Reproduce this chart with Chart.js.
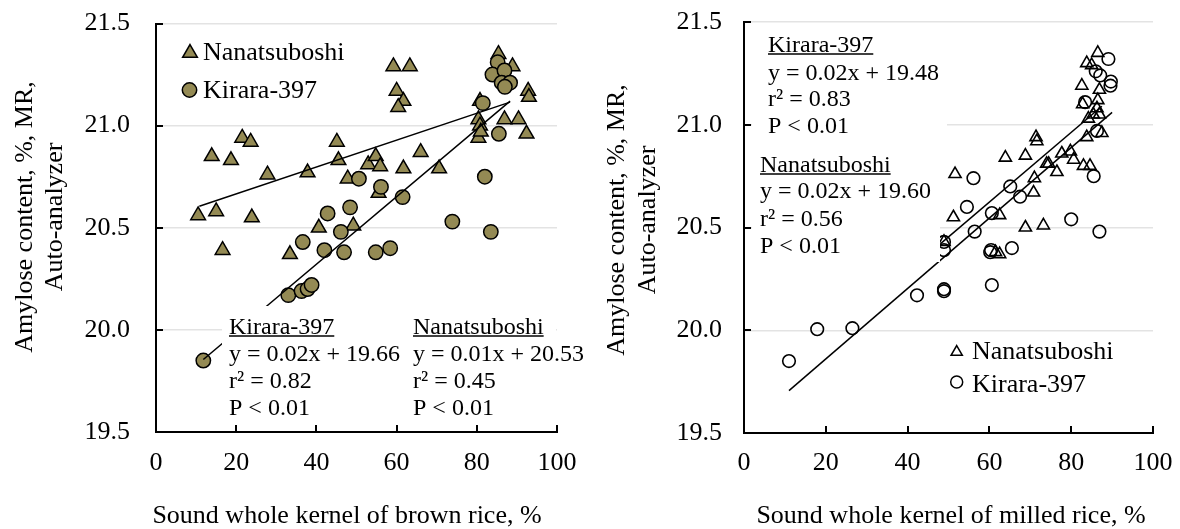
<!DOCTYPE html>
<html><head><meta charset="utf-8">
<script src="https://cdn.jsdelivr.net/npm/chart.js@4.4.1/dist/chart.umd.min.js"></script>
<style>
html,body{margin:0;padding:0;background:#fff;width:1180px;height:529px;overflow:hidden}
canvas{position:absolute;top:0}
#c1{left:0}#c2{left:590px}
</style></head><body>
<canvas id="c1" width="590" height="529"></canvas>
<canvas id="c2" width="590" height="529"></canvas>
<script>
// ---------- data ----------
const xTicks = [0, 20, 40, 60, 80, 100];
const yTicks = [19.5, 20.0, 20.5, 21.0, 21.5];

// Left: brown rice
const nanaBrown = [[10.5,20.56],[15.0,20.58],[16.6,20.39],[13.9,20.85],[18.7,20.83],[21.5,20.94],[23.6,20.92],[23.9,20.55],[27.8,20.76],[33.4,20.37],[37.8,20.77],[40.6,20.50],[45.1,20.92],[45.5,20.83],[47.8,20.74],[49.2,20.51],[52.9,20.81],[54.8,20.85],[55.9,20.80],[55.5,20.67],[61.7,20.79],[66.0,20.87],[70.6,20.79],[59.2,21.29],[63.3,21.29],[60.0,21.17],[61.7,21.12],[60.4,21.09],[80.4,21.03],[80.8,21.00],[80.4,20.94],[80.8,21.12],[81.0,20.97],[86.9,21.03],[90.4,21.03],[92.4,20.96],[92.8,21.17],[93.0,21.14],[85.4,21.35],[88.9,21.29]];
const kiraraBrown = [[11.8,19.85],[33.0,20.17],[36.3,20.19],[37.8,20.20],[38.8,20.22],[36.6,20.43],[42.0,20.39],[42.8,20.57],[46.1,20.48],[46.9,20.38],[48.4,20.60],[50.6,20.74],[56.1,20.70],[61.5,20.65],[54.8,20.38],[58.4,20.40],[73.9,20.53],[82.0,20.75],[83.5,20.48],[85.5,20.96],[81.5,21.11],[85.2,21.31],[83.9,21.25],[86.9,21.27],[86.2,21.21],[88.3,21.21],[87.0,21.19]];
const nanaBrownFit = [[10.8,20.605],[88.3,21.115]];
const kiraraBrownFit = [[11.8,19.855],[88.3,21.12]];

// Right: milled rice
const nanaMilled = [[48.9,20.43],[51.6,20.76],[51.2,20.55],[62.5,20.56],[62.5,20.37],[61.5,20.38],[63.9,20.84],[68.8,20.85],[71.4,20.94],[71.6,20.92],[71.0,20.74],[70.8,20.67],[68.8,20.50],[73.2,20.51],[74.5,20.81],[74.0,20.81],[76.5,20.77],[77.7,20.86],[79.8,20.87],[80.6,20.83],[83.0,20.80],[84.6,20.80],[83.8,20.94],[87.5,20.96],[84.2,21.03],[85.4,21.05],[86.9,21.05],[86.3,21.08],[82.6,21.19],[86.9,21.17],[83.8,21.30],[86.5,21.35],[85.0,21.29],[86.5,21.12],[82.8,21.10]];
const kiraraMilled = [[11.0,19.85],[17.9,20.005],[26.5,20.01],[42.3,20.17],[48.9,20.19],[48.9,20.20],[48.9,20.39],[48.9,20.43],[56.1,20.74],[54.5,20.60],[56.4,20.48],[60.6,20.57],[65.1,20.70],[67.5,20.65],[60.4,20.39],[60.2,20.38],[65.5,20.40],[60.6,20.22],[80.0,20.54],[86.9,20.48],[85.5,20.75],[86.3,20.97],[83.4,21.11],[89.1,21.32],[86.0,21.26],[89.7,21.21],[89.6,21.19],[87.1,21.24]];
const nanaMilledFit = [[48.0,20.42],[87.5,21.09]];
const kiraraMilledFit = [[11.0,19.706],[90.0,21.06]];

const OLIVE = '#948A54';
const SERIF = '"Liberation Serif","Times New Roman",serif';

function pt(arr){ return arr.map(p => ({x:p[0], y:p[1]})); }

function overlayPlugin(o){
  return {
    id:'overlay'+o.id,
    afterDatasetsDraw(chart){
      const ctx = chart.ctx;
      ctx.save();
      ctx.fillStyle = '#fff';
      o.boxes.forEach(b => ctx.fillRect(b[0], b[1], b[2]-b[0], b[3]-b[1]));
      ctx.fillStyle = '#000';
      ctx.strokeStyle = '#000';
      ctx.textBaseline = 'alphabetic';
      ctx.textAlign = 'left';
      ctx.font = '24px ' + SERIF;
      o.texts.forEach(t => {
        ctx.fillText(t.s, t.x, t.y);
        if (t.u) {
          const w = ctx.measureText(t.s).width;
          ctx.lineWidth = 1.3;
          ctx.beginPath(); ctx.moveTo(t.x, t.y+2); ctx.lineTo(t.x+w, t.y+2); ctx.stroke();
        }
      });
      // legend
      ctx.font = '26px ' + SERIF;
      o.legend.forEach(l => {
        ctx.fillStyle = l.fill; ctx.strokeStyle = '#000'; ctx.lineWidth = 1.5;
        Chart.helpers.drawPoint(ctx, {pointStyle:l.style, radius:l.r, borderWidth:1.5}, l.mx, l.my);
        ctx.fillStyle = '#000';
        ctx.fillText(l.s, l.tx, l.ty);
      });
      ctx.restore();
    },
    afterDraw(chart){
      const ctx = chart.ctx, a = chart.chartArea;
      const xs = chart.scales.x, ys = chart.scales.y;
      ctx.save();
      ctx.strokeStyle = '#000'; ctx.lineWidth = 2;
      ctx.beginPath();
      yTicks.forEach(v => { const p = Math.round(ys.getPixelForValue(v)); ctx.moveTo(a.left, p); ctx.lineTo(a.left+7, p); });
      xTicks.forEach(v => { const p = Math.round(xs.getPixelForValue(v)); ctx.moveTo(p, a.bottom); ctx.lineTo(p, a.bottom-7); });
      ctx.stroke();
      // axis titles
      ctx.fillStyle = '#000';
      ctx.font = '26px ' + SERIF;
      ctx.textAlign = 'center';
      ctx.textBaseline = 'alphabetic';
      ctx.fillText(o.xTitle, o.xTitleX, o.xTitleY);
      ctx.textBaseline = 'middle';
      o.yTitle.forEach((s, i) => {
        ctx.save();
        ctx.translate(o.yTitleX[i], o.yTitleY);
        ctx.rotate(-Math.PI/2);
        ctx.fillText(s, 0, 0);
        ctx.restore();
      });
      ctx.restore();
    }
  };
}

function makeChart(id, o){
  const t = o.target;
  const pad = {top:t.top, right:590 - t.right, left:0, bottom:0};
  const chart = new Chart(document.getElementById(id), {
    type:'scatter',
    data:{datasets:o.datasets},
    options:{
      responsive:false, animation:false, devicePixelRatio:1,
      layout:{padding:pad},
      plugins:{legend:{display:false}, tooltip:{enabled:false}},
      scales:{
        x:{type:'linear', min:0, max:100,
           afterBuildTicks(s){ s.ticks = xTicks.map(v=>({value:v})); },
           afterFit(s){ s.height = 529 - t.bottom; s.paddingLeft = 0; s.paddingRight = 0; s.paddingTop = 0; s.paddingBottom = 0; },
           grid:{display:false, drawTicks:false},
           border:{display:true, color:'#000', width:2},
           ticks:{padding:o.xPad, color:'#000', font:{family:SERIF, size:26}, maxRotation:0, autoSkip:false,
                  callback:v=>String(v)}},
        y:{type:'linear', min:19.5, max:21.5,
           afterBuildTicks(s){ s.ticks = yTicks.map(v=>({value:v})); },
           afterFit(s){ s.width = t.left; s.paddingLeft = 0; s.paddingRight = 0; s.paddingTop = 0; s.paddingBottom = 0; },
           grid:{display:true, drawTicks:false, color:'#e3e3e3', lineWidth:1.5},
           border:{display:true, color:'#000', width:2},
           ticks:{padding:o.yPad, color:'#000', font:{family:SERIF, size:26}, autoSkip:false,
                  callback:v=>Number(v).toFixed(1)}}
      }
    },
    plugins:[overlayPlugin(o)]
  });
  return chart;
}

// Left chart
makeChart('c1', {
  id:1, xPad:16, yPad:26,
  target:{left:156, right:557, top:23.5, bottom:432},
  datasets:[
    {label:'Kirara-397 fit', data:pt(kiraraBrownFit), showLine:true, borderColor:'#000', borderWidth:1.5, pointRadius:0, order:0},
    {label:'Nanatsuboshi fit', data:pt(nanaBrownFit), showLine:true, borderColor:'#000', borderWidth:1.5, pointRadius:0, order:0},
    {label:'Kirara-397', data:pt(kiraraBrown), pointStyle:'circle', pointRadius:7.2, backgroundColor:OLIVE, borderColor:'#000', borderWidth:1.5, order:1},
    {label:'Nanatsuboshi', data:pt(nanaBrown), pointStyle:'triangle', pointRadius:8.5, backgroundColor:OLIVE, borderColor:'#000', borderWidth:1.5, order:2}
  ],
  boxes:[[222,306,556,424]],
  texts:[
    {s:'Kirara-397', x:229, y:334, u:true},
    {s:'y = 0.02x + 19.66', x:229, y:361},
    {s:'r² = 0.82', x:229, y:388},
    {s:'P < 0.01', x:229, y:415},
    {s:'Nanatsuboshi', x:413, y:334, u:true},
    {s:'y = 0.01x + 20.53', x:413, y:361},
    {s:'r² = 0.45', x:413, y:388},
    {s:'P < 0.01', x:413, y:415}
  ],
  legend:[
    {style:'triangle', r:8.5, fill:OLIVE, mx:190, my:53, s:'Nanatsuboshi', tx:203, ty:60},
    {style:'circle', r:7.2, fill:OLIVE, mx:189.5, my:90, s:'Kirara-397', tx:203, ty:98}
  ],
  xTitle:'Sound whole kernel of brown rice, %', xTitleX:347, xTitleY:523,
  yTitle:['Amylose content, %, MR,','Auto-analyzer'], yTitleX:[25,55], yTitleY:217
});

// Right chart
makeChart('c2', {
  id:2, xPad:15, yPad:22,
  target:{left:154, right:563, top:22, bottom:433},
  datasets:[
    {label:'Kirara-397 fit', data:pt(kiraraMilledFit), showLine:true, borderColor:'#000', borderWidth:1.5, pointRadius:0, order:0},
    {label:'Nanatsuboshi fit', data:pt(nanaMilledFit), showLine:true, borderColor:'#000', borderWidth:1.5, pointRadius:0, order:0},
    {label:'Kirara-397', data:pt(kiraraMilled), pointStyle:'circle', pointRadius:6.3, backgroundColor:'rgba(0,0,0,0)', borderColor:'#000', borderWidth:1.6, order:1},
    {label:'Nanatsuboshi', data:pt(nanaMilled), pointStyle:'triangle', pointRadius:7, backgroundColor:'rgba(0,0,0,0)', borderColor:'#000', borderWidth:1.6, order:2}
  ],
  boxes:[[162,30,357,140],[162,150,350,262]],
  texts:[
    {s:'Kirara-397', x:178, y:52, u:true},
    {s:'y = 0.02x + 19.48', x:178, y:80},
    {s:'r² = 0.83', x:178, y:106},
    {s:'P < 0.01', x:178, y:133},
    {s:'Nanatsuboshi', x:170, y:172, u:true},
    {s:'y = 0.02x + 19.60', x:170, y:198},
    {s:'r² = 0.56', x:170, y:226},
    {s:'P < 0.01', x:170, y:253}
  ],
  legend:[
    {style:'triangle', r:6.5, fill:'rgba(0,0,0,0)', mx:366.7, my:352, s:'Nanatsuboshi', tx:382, ty:359},
    {style:'circle', r:6, fill:'rgba(0,0,0,0)', mx:366.7, my:382, s:'Kirara-397', tx:382, ty:392}
  ],
  xTitle:'Sound whole kernel of milled rice, %', xTitleX:361, xTitleY:523,
  yTitle:['Amylose content, %, MR,','Auto-analyzer'], yTitleX:[27,58], yTitleY:220
});
</script>
</body></html>
